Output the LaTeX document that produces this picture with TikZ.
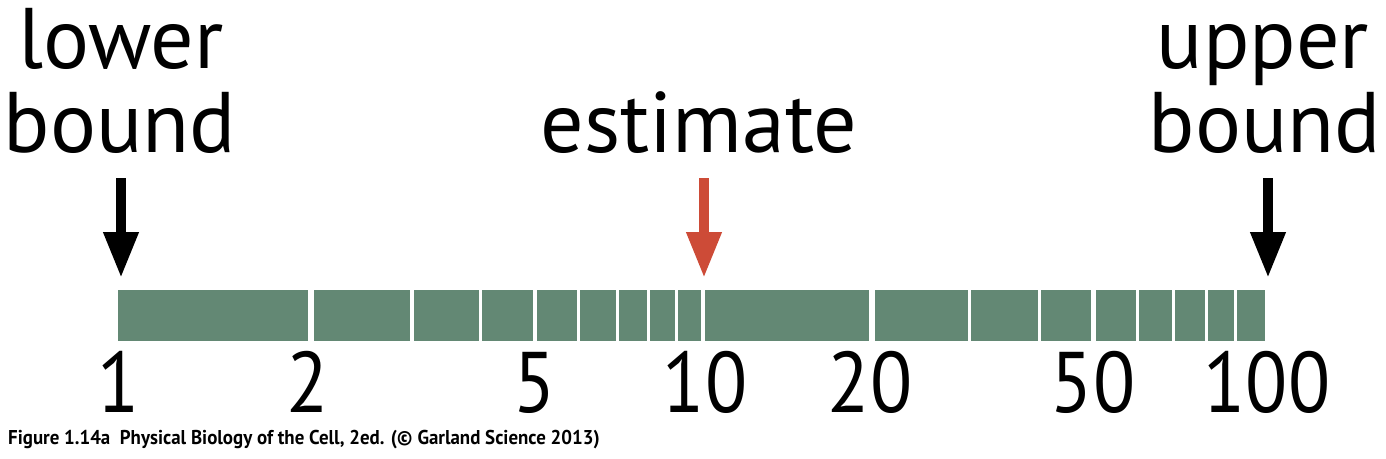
\documentclass[tikz,border=0pt]{standalone}
\usepackage{fontspec}
\setmainfont{PT Sans}
\usetikzlibrary{arrows.meta}
\definecolor{bargreen}{RGB}{99,136,116}
\definecolor{estred}{RGB}{205,75,55}
\begin{document}
\begin{tikzpicture}[x=1pt,y=-1pt,
  bigword/.style={anchor=base,inner sep=0pt,font=\fontsize{86}{90}\selectfont},
  num/.style={anchor=base,inner sep=0pt},
  downarrow/.style={line width=10pt,-{Triangle[width=33pt,length=46pt]}},
  segbox/.style={fill=bargreen}]
\newcommand{\numtext}[1]{\scalebox{0.9}[1]{\fontsize{86}{90}\selectfont #1}}
\useasboundingbox (0,0) rectangle (1386,458);
\fill[white] (0,0) rectangle (1386,458);
% bar segments
\foreach \a/\b in {118/308,314/410,414/479,482/533,537/577,580/616,619/647,650/675,678/701,705/869,875/968,971/1038,1041/1091,1096/1136,1139/1172,1175/1205,1208/1234,1237/1265}
  \fill[segbox] (\a,290) rectangle (\b,341);
% labels above
\node[bigword] (low1) at (121,68) {lower};
\node[bigword] (low2) at (120,152) {bound};
\node[bigword] (est) at (699,152) {estimate};
\node[bigword] (up1) at (1263,68) {upper};
\node[bigword] (up2) at (1265,152) {bound};
% arrows
\coordinate (lbtail) at (121,178); \coordinate (lbtip) at (121,278);
\coordinate (esttail) at (704,178); \coordinate (esttip) at (704,278);
\coordinate (ubtail) at (1268,178); \coordinate (ubtip) at (1268,278);
\draw[downarrow,black] (lbtail) -- (lbtip);
\draw[downarrow,estred] (esttail) -- (esttip);
\draw[downarrow,black] (ubtail) -- (ubtip);
% numbers
\node[num] (n1) at (119,412) {\numtext{1}};
\node[num] (n2) at (308,412) {\numtext{2}};
\node[num] (n5) at (535,412) {\numtext{5}};
\node[num] (n10) at (705,412) {\numtext{10}};
\node[num] (n20) at (870,412) {\numtext{20}};
\node[num] (n50) at (1093,412) {\numtext{50}};
\node[num] (n100) at (1267,412) {\numtext{100}};
% caption
\node[anchor=base west,inner sep=0pt] (cap) at (8,444) {\scalebox{0.945}[1]{\bfseries\fontsize{20}{22}\selectfont Figure 1.14a\ \ Physical Biology of the Cell, 2ed. (© Garland Science 2013)}};
\end{tikzpicture}
\end{document}
